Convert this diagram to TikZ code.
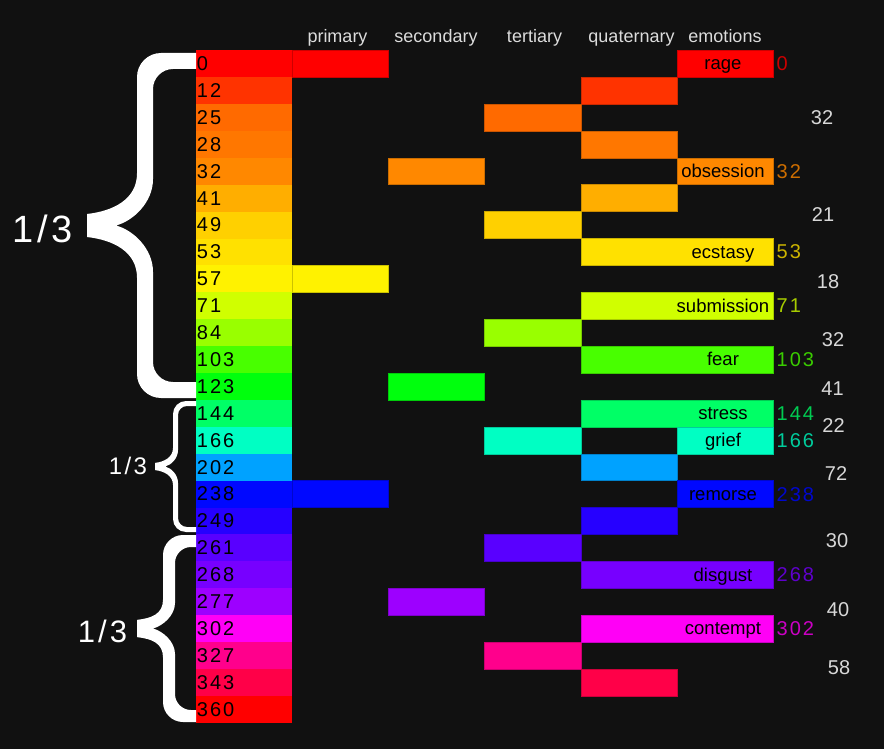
\PassOptionsToPackage{rgb}{xcolor}
\documentclass[tikz,border=0pt]{standalone}
\usepackage{fontspec}
\setmainfont{Liberation Sans}
\newfontfamily\numfont[LetterSpace=10]{Liberation Sans}
\definecolor{fondo}{HTML}{111111}
\definecolor{rotulo}{HTML}{DCDCDC}
\definecolor{gris}{HTML}{D8D8D8}

% llave rellena: borde derecho, arriba, abajo, punta, eje, grosor
\newcommand{\llave}[6]{%
  \pgfmathsetmacro{\lm}{(#2+#3)/2}%
  \pgfmathsetmacro{\lo}{#5-#6/2}%
  \pgfmathsetmacro{\li}{#5+#6/2}%
  \pgfmathsetmacro{\lro}{#6+8}%
  \pgfmathsetmacro{\lri}{#6+4}%
  \pgfmathsetmacro{\ld}{#5-#4}%
  \pgfmathsetmacro{\lh}{0.72*#6}%
  \pgfmathsetmacro{\ln}{#4+0.5*\ld}%
  \fill[white] (#1,#2) -- ({\lo+\lro},#2)
    .. controls ({\lo+0.45*\lro},#2) and (\lo,{#2+0.45*\lro}) .. (\lo,{#2+\lro})
    -- (\lo,{\lm-0.9*\ld})
    .. controls (\lo,{\lm-0.45*\ld}) and ({#4+0.45*\ld},{\lm-\lh-0.05*\ld}) .. (#4,{\lm-\lh})
    -- (#4,{\lm+\lh})
    .. controls ({#4+0.45*\ld},{\lm+\lh+0.05*\ld}) and (\lo,{\lm+0.45*\ld}) .. (\lo,{\lm+0.9*\ld})
    -- (\lo,{#3-\lro})
    .. controls (\lo,{#3-0.45*\lro}) and ({\lo+0.45*\lro},#3) .. ({\lo+\lro},#3)
    -- (#1,#3) -- (#1,{#3-#6}) -- ({\li+\lri},{#3-#6})
    .. controls ({\li+0.45*\lri},{#3-#6}) and (\li,{#3-#6-0.45*\lri}) .. (\li,{#3-#6-\lri})
    -- (\li,{\lm+0.8*\ld})
    .. controls (\li,{\lm+0.4*\ld}) and ({\ln+0.3*\ld},{\lm+0.08*\ld}) .. (\ln,\lm)
    .. controls ({\ln+0.3*\ld},{\lm-0.08*\ld}) and (\li,{\lm-0.4*\ld}) .. (\li,{\lm-0.8*\ld})
    -- (\li,{#2+#6+\lri})
    .. controls (\li,{#2+#6+0.45*\lri}) and ({\li+0.45*\lri},{#2+#6}) .. ({\li+\lri},{#2+#6})
    -- (#1,{#2+#6}) -- cycle;%
}

\begin{document}
\begin{tikzpicture}[x=1pt, y=-1pt,
    celda/.style={anchor=north west, minimum height=26.9pt, inner xsep=1pt, inner ysep=0pt,
      text width=94.2pt, align=left, text=black, font=\numfont\fontsize{20pt}{24pt}\selectfont},
    barra/.style={anchor=north west, minimum width=96.2pt, minimum height=26.9pt, inner sep=0pt, line width=0.7pt},
    emocion/.style={anchor=base, text=black, font=\fontsize{18.5pt}{22pt}\selectfont},
    tono/.style={anchor=base west, inner sep=0pt, font=\numfont\fontsize{20pt}{24pt}\selectfont},
    salto/.style={text=gris, inner sep=0pt, font=\fontsize{20pt}{24pt}\selectfont},
    cabecera/.style={anchor=base, text=rotulo, font=\fontsize{18pt}{22pt}\selectfont},
    tercio/.style={anchor=base, text=white, inner sep=0pt}
  ]
  \fill[fondo] (0,0) rectangle (884,749);

  % --- CABECERAS ---
  \foreach \t/\x in {primary/337.5, secondary/436, tertiary/534.5, quaternary/631.5, emotions/725}
    \node[cabecera] (h-\t) at (\x,43) {\t};

  % --- COLUMNA DE TONOS ---
  \foreach \h [count=\i from 0] in {0,12,25,28,32,41,49,53,57,71,84,103,123,144,166,202,238,249,261,268,277,302,327,343,360} {
    \definecolor{cur}{Hsb}{\h,1,1}
    \node[celda, fill=cur] (n\i) at (195.7,{50+26.9*\i}) {\h};
  }

  % --- BARRAS (fila/tono/columna) ---
  \foreach \r/\h/\c in {0/0/1, 1/12/4, 2/25/3, 3/28/4, 4/32/2, 5/41/4, 6/49/3, 8/57/1, 10/84/3,
      12/123/2, 14/166/3, 15/202/4, 16/238/1, 17/249/4, 18/261/3, 20/277/2, 22/327/3, 23/343/4} {
    \definecolor{cur}{Hsb}{\h,1,1}
    \node[barra, fill=cur, draw=cur!80!black] (b\r) at ({195.7+96.2*\c},{50+26.9*\r}) {};
  }

  % --- EMOCIONES (fila/tono/columna/nombre) ---
  \foreach \r/\h/\c/\e in {0/0/5/rage, 4/32/5/obsession, 7/53/4/ecstasy, 9/71/4/submission, 11/103/4/fear,
      13/144/4/stress, 14/166/5/grief, 16/238/5/remorse, 19/268/4/disgust, 21/302/4/contempt} {
    \definecolor{cur}{Hsb}{\h,1,1}
    \definecolor{curd}{Hsb}{\h,1,0.8}
    \node[barra, fill=cur, draw=cur!80!black, minimum width={(6-\c)*96.2pt}] (e\r) at ({195.7+96.2*\c},{50+26.9*\r}) {};
    \node[emocion] (t\r) at (723,{63.45+26.9*\r+6.5}) {\e};
    \node[tono, text=curd] (v\r) at (776.5,{63.45+26.9*\r+7.15}) {\h};
  }

  % --- DIFERENCIAS ---
  \foreach \v/\x/\y [count=\k] in {32/822/118, 21/823/215, 18/828/282, 32/833/340, 41/832.5/389,
      22/833.5/425.5, 72/836/474, 30/837/541, 40/838/610, 58/839/668}
    \node[salto] (d\k) at (\x,\y) {\v};

  % --- LLAVES ---
  \llave{196}{53}{398}{87}{145}{16}
  \llave{196}{401}{532}{155}{175.5}{5}
  \llave{196}{535}{722}{137}{169}{12}
  \node[tercio, font=\numfont\fontsize{38pt}{44pt}\selectfont] (l1) at (42.5,242) {1/3};
  \node[tercio, font=\numfont\fontsize{24pt}{28pt}\selectfont] (l2) at (128,474) {1/3};
  \node[tercio, font=\numfont\fontsize{31pt}{36pt}\selectfont] (l3) at (102.5,642) {1/3};
\end{tikzpicture}
\end{document}
